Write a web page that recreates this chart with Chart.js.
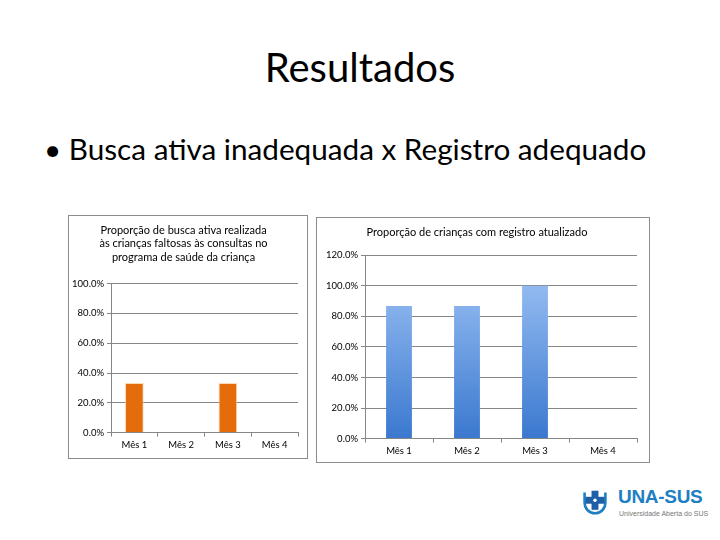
<!DOCTYPE html>
<html>
<head>
<meta charset="utf-8">
<script src="https://cdn.jsdelivr.net/npm/chart.js@4"></script>
<style>
  body { margin: 0; width: 720px; height: 540px; background: #fff; position: relative; overflow: hidden; font-family: Lato, "Open Sans", sans-serif; }
  #title { position: absolute; left: 0; width: 720px; top: 43px; text-align: center; font-size: 40px; color: #000; }
  #bullet { position: absolute; left: 44px; top: 131px; font-size: 29.7px; color: #000; }
  .box { position: absolute; border: 1px solid #8c8c8c; background: #fff; }
  #box1 { left: 68px; top: 215px; width: 238px; height: 242px; }
  #box2 { left: 316px; top: 217px; width: 332px; height: 244px; }
  #logo { position: absolute; left: 582px; top: 486px; }
  #logo .mark { position: absolute; left: 0; top: 1px; width: 26px; height: 30px; }
  #logo .name { position: absolute; left: 36px; top: 0px; font: bold 19px "Liberation Sans", Arial, sans-serif; color: #1f7fc4; letter-spacing: -0.3px; white-space: nowrap; }
  #logo .sub { position: absolute; left: 37px; top: 24px; font: 7px "Liberation Sans", Arial, sans-serif; color: #777; white-space: nowrap; }
</style>
</head>
<body>
<div id="title">Resultados</div>
<div id="bullet">• Busca ativa inadequada x Registro adequado</div>
<div class="box" id="box1"><canvas id="c1" width="238" height="242"></canvas></div>
<div class="box" id="box2"><canvas id="c2" width="332" height="244"></canvas></div>
<div id="logo">
  <svg class="mark" viewBox="0 0 30 30">
    <path d="M3 4 L3 16 A12 12 0 0 0 27 16 L27 4" fill="none" stroke="#1f7fc4" stroke-width="3"/>
    <rect x="11" y="2" width="8" height="22" fill="#1f5fa8"/>
    <rect x="4" y="9" width="22" height="8" fill="#1f5fa8"/>
    <circle cx="15" cy="13" r="2" fill="#fff"/>
  </svg>
  <div class="name">UNA-SUS</div>
  <div class="sub">Universidade Aberta do SUS</div>
</div>
<script>
const months = ['Mês 1', 'Mês 2', 'Mês 3', 'Mês 4'];
const buscaAtiva = [33.3, 0, 33.3, 0];
const registro = [86.7, 86.7, 100, 0];

const fontFam = 'Lato, "Open Sans", sans-serif';
const gridCol = '#868686';
const pct = v => v.toFixed(1) + '%';

function blueGrad(ctx) {
  const ch = ctx.chart;
  const a = ch.chartArea;
  if (!a) return '#6a9be0';
  const g = ch.ctx.createLinearGradient(0, a.top, 0, a.bottom);
  g.addColorStop(0, '#a3c7f7');
  g.addColorStop(1, '#3a78cf');
  return g;
}

function opts(titleLines, yMax, yWidth, pad, titleBottom) {
  return {
    responsive: false,
    animation: false,
    layout: { padding: pad },
    plugins: {
      legend: { display: false },
      tooltip: { enabled: false },
      title: {
        display: true,
        text: titleLines,
        color: '#000',
        font: { family: fontFam, size: 11, weight: 'normal' },
        lineHeight: 1.35,
        padding: { top: 8, bottom: titleBottom }
      }
    },
    scales: {
      x: {
        grid: { display: true, drawOnChartArea: false, offset: true, tickLength: 4, color: gridCol },
        border: { color: gridCol },
        ticks: { color: '#000', font: { family: fontFam, size: 9.5 }, padding: 3 }
      },
      y: {
        min: 0, max: yMax,
        afterFit: s => { s.width = yWidth; },
        grid: { color: gridCol, tickLength: 4 },
        border: { color: gridCol },
        ticks: { stepSize: 20, color: '#000', font: { family: fontFam, size: 9.5 }, padding: 3, callback: pct }
      }
    }
  };
}

new Chart(document.getElementById('c1'), {
  type: 'bar',
  data: {
    labels: months,
    datasets: [{
      data: buscaAtiva,
      backgroundColor: '#e46c0a',
      borderColor: 'rgba(252,210,160,0.8)',
      borderWidth: 1,
      categoryPercentage: 1,
      barPercentage: 0.4
    }]
  },
  options: opts(['Proporção de busca ativa realizada', 'às crianças faltosas às consultas no', 'programa de saúde da criança'], 100, 42, { top: 0, right: 9, bottom: 4, left: 0 }, 20)
});

new Chart(document.getElementById('c2'), {
  type: 'bar',
  data: {
    labels: months,
    datasets: [{
      data: registro,
      backgroundColor: blueGrad,
      categoryPercentage: 1,
      barPercentage: 0.38
    }]
  },
  options: opts('Proporção de crianças com registro atualizado', 120, 48, { top: 0, right: 12, bottom: 2, left: 0 }, 16)
});
</script>
</body>
</html>
